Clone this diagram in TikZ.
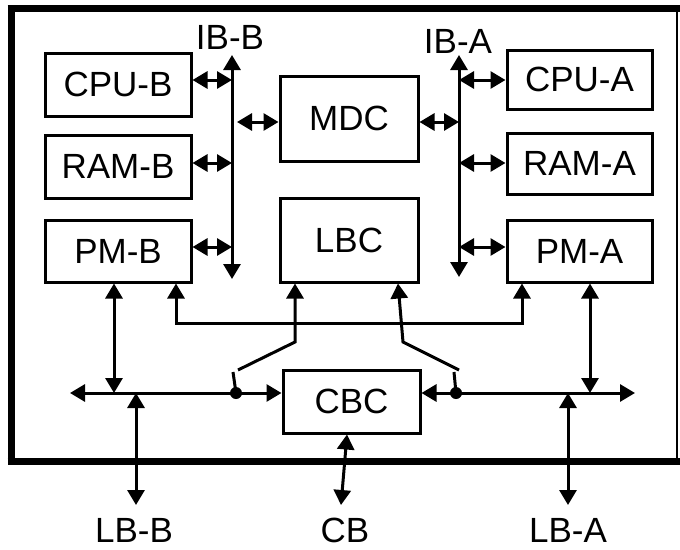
\documentclass[tikz,border=0pt]{standalone}
\usepackage{fontspec}
\setmainfont{Liberation Sans}
\usetikzlibrary{arrows.meta}
\begin{document}
\begin{tikzpicture}[x=1pt,y=-1pt,
  box/.style={draw,line width=3pt,inner sep=0pt,font=\fontsize{35}{40}\selectfont},
  lbl/.style={inner sep=0pt,font=\fontsize{35}{40}\selectfont},
  wire/.style={line width=3pt},
  dbl/.style={line width=3pt,{Triangle[length=15pt 0 0,width=17pt 0 0]}-{Triangle[length=15pt 0 0,width=17pt 0 0]}},
  bgn/.style={line width=3pt,{Triangle[length=15pt 0 0,width=17pt 0 0]}-},
  frame/.style={line width=7pt},
  dotc/.style={circle,fill,inner sep=0pt,minimum size=12pt}]
\useasboundingbox (0,0) rectangle (680,549);
% frame
\draw[frame] (11,5) -- (11,464.5);
\draw[frame] (7.5,8.5) -- (680,8.5);
\draw[frame] (7.5,461) -- (680,461);
\draw[line width=1.5pt] (677,8) -- (677,461);
% boxes
\node[box,minimum width=146pt,minimum height=63pt] (cpub) at (118,84.5) {CPU-B};
\node[box,minimum width=146pt,minimum height=63pt] (ramb) at (118,166.5) {RAM-B};
\node[box,minimum width=146pt,minimum height=62pt] (pmb) at (118,251) {PM-B};
\node[box,minimum width=138pt,minimum height=85pt] (mdc) at (349,118.5) {MDC};
\node[box,minimum width=138pt,minimum height=84pt] (lbc) at (349,240) {LBC};
\node[box,minimum width=145pt,minimum height=59pt] (cpua) at (579.5,79.5) {CPU-A};
\node[box,minimum width=145pt,minimum height=61pt] (rama) at (579.5,163.5) {RAM-A};
\node[box,minimum width=145pt,minimum height=62pt] (pma) at (579.5,251) {PM-A};
\node[box,minimum width=137pt,minimum height=63pt] (cbc) at (351.5,401.5) {CBC};
% labels
\node[lbl] (ibbl) at (230,37) {IB-B};
\node[lbl] (ibal) at (458,41) {IB-A};
\node[lbl] (lbbl) at (134,530) {LB-B};
\node[lbl] (cbl) at (345,530) {CB};
\node[lbl] (lbal) at (568,530) {LB-A};
% internal buses
\coordinate (ibbt) at (232,55); \coordinate (ibbb) at (232,279);
\coordinate (ibat) at (459,55); \coordinate (ibab) at (459,277);
\draw[dbl] (ibbt) -- (ibbb);
\draw[dbl] (ibat) -- (ibab);
\draw[dbl] (cpub.east |- 0,80) -- (ibbt |- 0,80);
\draw[dbl] (ramb.east |- 0,163) -- (ibbt |- 0,163);
\draw[dbl] (pmb.east |- 0,247) -- (ibbt |- 0,247);
\coordinate (mb) at (237,122);
\draw[dbl] (mb) -- (mb -| mdc.west);
\draw[dbl] (mdc.east |- 0,122) -- (ibat |- 0,122);
\draw[dbl] (ibat |- 0,80) -- (cpua.west |- 0,80);
\draw[dbl] (ibat |- 0,163) -- (rama.west |- 0,163);
\draw[dbl] (ibat |- 0,247) -- (pma.west |- 0,247);
% bottom buses
\coordinate (lbusl) at (70,393);
\coordinate (rbusr) at (635,393);
\draw[dbl] (lbusl) -- (cbc.west |- lbusl);
\draw[dbl] (cbc.east |- rbusr) -- (rbusr);
\node[dotc] (swb) at (236,393) {};
\node[dotc] (swa) at (456,393) {};
% PM links to buses
\draw[dbl] (pmb.south -| 114,0) -- (114,393);
\draw[dbl] (pma.south -| 590,0) -- (590,393);
% local buses
\coordinate (lbb) at (136,505);
\coordinate (lba) at (568,505);
\coordinate (cbt) at (341,505);
\draw[dbl] (136,393) -- (lbb);
\draw[dbl] (568,393) -- (lba);
\draw[dbl] (cbc.south -| 347,0) -- (cbt);
% PM cross link
\draw[dbl] (pmb.south -| 176,0) -- (176,323) -- (522,323) -- (pma.south -| 522,0);
% LBC switches
\draw[bgn] (lbc.south -| 295,0) -- (295,342) -- (238,370);
\draw[wire] (233,372) -- (swb.center);
\draw[bgn] (lbc.south -| 398,0) -- (403,342) -- (459,370);
\draw[wire] (454,372) -- (swa.center);
\end{tikzpicture}
\end{document}
